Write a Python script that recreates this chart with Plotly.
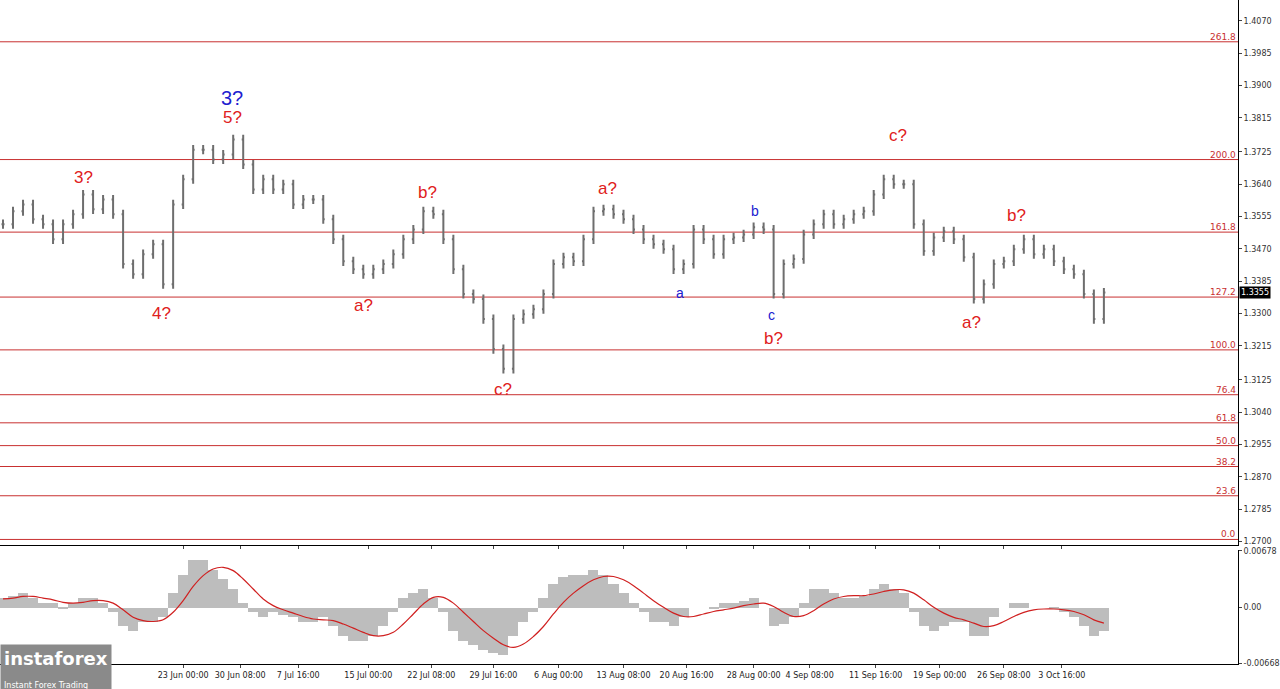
import plotly.graph_objects as go
from plotly.subplots import make_subplots

# closing prices, one bar per step
closes = [1.3535, 1.3569, 1.3587, 1.3548, 1.3535, 1.3495, 1.3535, 1.3561, 1.3613, 1.3574,
          1.3600, 1.3561, 1.3430, 1.3403, 1.3456, 1.3482, 1.3377, 1.3587, 1.3653, 1.3731,
          1.3731, 1.3705, 1.3718, 1.3758, 1.3692, 1.3626, 1.3653, 1.3626, 1.3640, 1.3587,
          1.3600, 1.3600, 1.3548, 1.3495, 1.3437, 1.3416, 1.3403, 1.3416, 1.3430, 1.3456,
          1.3495, 1.3521, 1.3569, 1.3561, 1.3495, 1.3416, 1.3351, 1.3338, 1.3285, 1.3206,
          1.3154, 1.3285, 1.3298, 1.3311, 1.3351, 1.3430, 1.3448, 1.3437, 1.3495, 1.3569,
          1.3574, 1.3561, 1.3548, 1.3521, 1.3495, 1.3482, 1.3469, 1.3416, 1.3430, 1.3521,
          1.3495, 1.3456, 1.3495, 1.3500, 1.3508, 1.3527, 1.3521, 1.3351, 1.3430, 1.3443,
          1.3508, 1.3535, 1.3561, 1.3535, 1.3548, 1.3561, 1.3569, 1.3613, 1.3653, 1.3640,
          1.3640, 1.3535, 1.3464, 1.3500, 1.3516, 1.3495, 1.3448, 1.3338, 1.3377, 1.3430,
          1.3437, 1.3469, 1.3495, 1.3456, 1.3469, 1.3437, 1.3416, 1.3403, 1.3351, 1.3285,
          1.3355]
wick = 0.0012

macd_hist = [11.3, 13.6, 17, 11.3, 5.7, 5.7, -2.3, 5.7, 11.3, 11.3,
             5.7, -5.7, -22.6, -28.3, -17, -17, -11.3, 17, 39.6, 56.5,
             56.5, 45.2, 33.9, 22.6, 5.7, -5.7, -11.3, -5.7, -9, -11.3,
             -17, -17, -11.3, -22.6, -33.9, -39.6, -39.6, -33.9, -22.6, -5.7,
             11.3, 17, 22.6, 11.3, -5.7, -28.3, -39.6, -45.2, -50.9, -54.2,
             -56.5, -33.9, -17, -5.7, 11.3, 28.3, 36.2, 39.6, 39.6, 45.2,
             39.6, 28.3, 17, 5.7, -5.7, -17, -17, -22.6, -11.3, 0,
             0, -2.3, 5.7, 5.7, 7.9, 11.3, 0, -22.6, -20.3, -11.3,
             5.7, 22.6, 22.6, 17, 11.3, 11.3, 13.6, 22.6, 28.3, 22.6,
             17, -5.7, -22.6, -28.3, -22.6, -17, -17, -33.9, -33.9, -11.3,
             0, 5.7, 5.7, 0, 0, -2.3, -5.7, -11.3, -22.6, -33.9, -28]
macd_signal = [10, 11, 13, 13, 11, 9, 6, 5, 6, 8,
               8, 5, -3, -12, -16, -17, -15, -6, 8, 25,
               38, 46, 48, 44, 34, 22, 10, 2, -3, -7,
               -11, -14, -15, -16, -20, -25, -30, -34, -34, -30,
               -20, -8, 4, 12, 12, 5, -6, -17, -28, -37,
               -45, -48, -44, -35, -23, -8, 6, 17, 26, 33,
               37, 37, 33, 26, 17, 8, 0, -7, -11, -11,
               -8, -5, -3, -1, 2, 4, 5, 1, -6, -11,
               -10, -4, 4, 10, 13, 14, 14, 16, 19, 21,
               21, 17, 9, 0, -7, -12, -15, -19, -23, -22,
               -17, -11, -6, -3, -2, -2, -3, -5, -9, -15, -19]

fib_levels = [1.4015, 1.3705, 1.3514, 1.3343, 1.3204, 1.3086, 1.3012, 1.2952, 1.2897, 1.2820, 1.2705]
fib_names = ["261.8", "200.0", "161.8", "127.2", "100.0", "76.4", "61.8", "50.0", "38.2", "23.6", "0.0"]

price_ticks = [1.4070, 1.3985, 1.3900, 1.3815, 1.3725, 1.3640, 1.3555, 1.3470, 1.3385,
               1.3300, 1.3215, 1.3125, 1.3040, 1.2955, 1.2870, 1.2785, 1.2700]
date_idx = [18, 23.7, 29.5, 36.5, 42.8, 49, 55.5, 62, 68.3, 75, 80.6, 87.2, 93.6, 100, 105.8]
date_labels = ["23 Jun 00:00", "30 Jun 08:00", "7 Jul 16:00", "15 Jul 00:00", "22 Jul 08:00",
               "29 Jul 16:00", "6 Aug 00:00", "13 Aug 08:00", "20 Aug 16:00", "28 Aug 00:00",
               "4 Sep 08:00", "11 Sep 16:00", "19 Sep 00:00", "26 Sep 08:00", "3 Oct 16:00"]

# wave labels: text, bar index, price, colour, size
waves = [("3?", 8, 1.3658, "#e02020", 17), ("4?", 15.8, 1.3301, "#e02020", 17),
         ("3?", 22.9, 1.3868, "#2020d0", 20), ("5?", 22.9, 1.3815, "#e02020", 17),
         ("a?", 36, 1.3322, "#e02020", 17), ("b?", 42.4, 1.3619, "#e02020", 17),
         ("c?", 50, 1.3101, "#e02020", 17), ("a?", 60.4, 1.3629, "#e02020", 17),
         ("a", 67.6, 1.3353, "#2020d0", 14), ("b", 75.1, 1.3569, "#2020d0", 14),
         ("c", 76.8, 1.3296, "#2020d0", 14), ("b?", 77, 1.3235, "#e02020", 17),
         ("c?", 89.4, 1.3768, "#e02020", 17), ("a?", 96.8, 1.3275, "#e02020", 17),
         ("b?", 101.3, 1.3558, "#e02020", 17)]

x = list(range(len(closes)))
opens = [closes[0]] + closes[:-1]
highs = [max(o, c) + wick for o, c in zip(opens, closes)]
lows = [min(o, c) - wick for o, c in zip(opens, closes)]

fig = make_subplots(rows=2, cols=1, shared_xaxes=True, row_heights=[0.82, 0.18],
                    vertical_spacing=0.008)

fig.add_trace(go.Ohlc(x=x, open=opens, high=highs, low=lows, close=closes,
                      increasing_line_color="#6e6e6e", decreasing_line_color="#6e6e6e",
                      line_width=2, tickwidth=0.15, showlegend=False), row=1, col=1)

fig.add_trace(go.Bar(x=x, y=[v / 10000 for v in macd_hist], marker_color="#bdbdbd",
                     marker_line_width=0, width=1.0, showlegend=False), row=2, col=1)
fig.add_trace(go.Scatter(x=x, y=[v / 10000 for v in macd_signal], mode="lines",
                         line=dict(color="#d02020", width=1.2, shape="spline"),
                         showlegend=False), row=2, col=1)

for lvl, name in zip(fib_levels, fib_names):
    fig.add_shape(type="line", xref="x domain", x0=0, x1=1, yref="y", y0=lvl, y1=lvl,
                  line=dict(color="#c83030", width=1), layer="below")
    fig.add_annotation(x=1, xref="x domain", y=lvl, yref="y", text=name, showarrow=False,
                       xanchor="right", yanchor="bottom", yshift=-2,
                       font=dict(size=9, color="#c83030"))

for t, xi, yi, col, sz in waves:
    fig.add_annotation(x=xi, y=yi, text=t, showarrow=False, xref="x", yref="y",
                       font=dict(size=sz, color=col, family="Arial"))

fig.add_annotation(x=1, xref="paper", y=closes[-1], yref="y", text="1.3355", showarrow=False,
                   xanchor="left", xshift=1, bgcolor="black", font=dict(color="white", size=8))

fig.add_annotation(x=0, y=0, xref="paper", yref="paper", xanchor="left", yanchor="top",
                   yshift=20, text="<b>instaforex</b><br><span style='font-size:8px'>Instant Forex Trading</span>",
                   showarrow=False, bgcolor="#8a8a8a", font=dict(color="white", size=18),
                   align="left", borderpad=3)

fig.update_xaxes(range=[-0.3, 123.4], showgrid=False, zeroline=False, showline=True,
                 linecolor="black", mirror=False, rangeslider_visible=False,
                 tickvals=date_idx, ticktext=date_labels, ticks="outside", ticklen=3,
                 tickangle=0, tickfont=dict(size=8, color="#222"))
fig.update_xaxes(showticklabels=False, row=1, col=1)
fig.update_yaxes(side="right", showgrid=False, zeroline=False, showline=True,
                 linecolor="black", ticks="outside", ticklen=3,
                 tickfont=dict(size=8, color="#333"))
fig.update_yaxes(range=[1.2690, 1.4125], tickvals=price_ticks, domain=[0.179, 1],
                 tickformat=".4f", row=1, col=1)
fig.update_yaxes(range=[-0.0068, 0.0069], tickvals=[0.00678, 0, -0.00668], domain=[0, 0.172],
                 ticktext=["0.00678", "0.00", "-0.00668"], row=2, col=1)

fig.update_layout(width=1280, height=689, margin=dict(l=0, r=42, t=0, b=25, autoexpand=False),
                  plot_bgcolor="white", paper_bgcolor="white", bargap=0,
                  font=dict(family="DejaVu Sans"))

fig.write_html("out.html", config={"displayModeBar": False},
               post_script="document.body.style.margin='0';document.body.style.overflow='hidden';")
